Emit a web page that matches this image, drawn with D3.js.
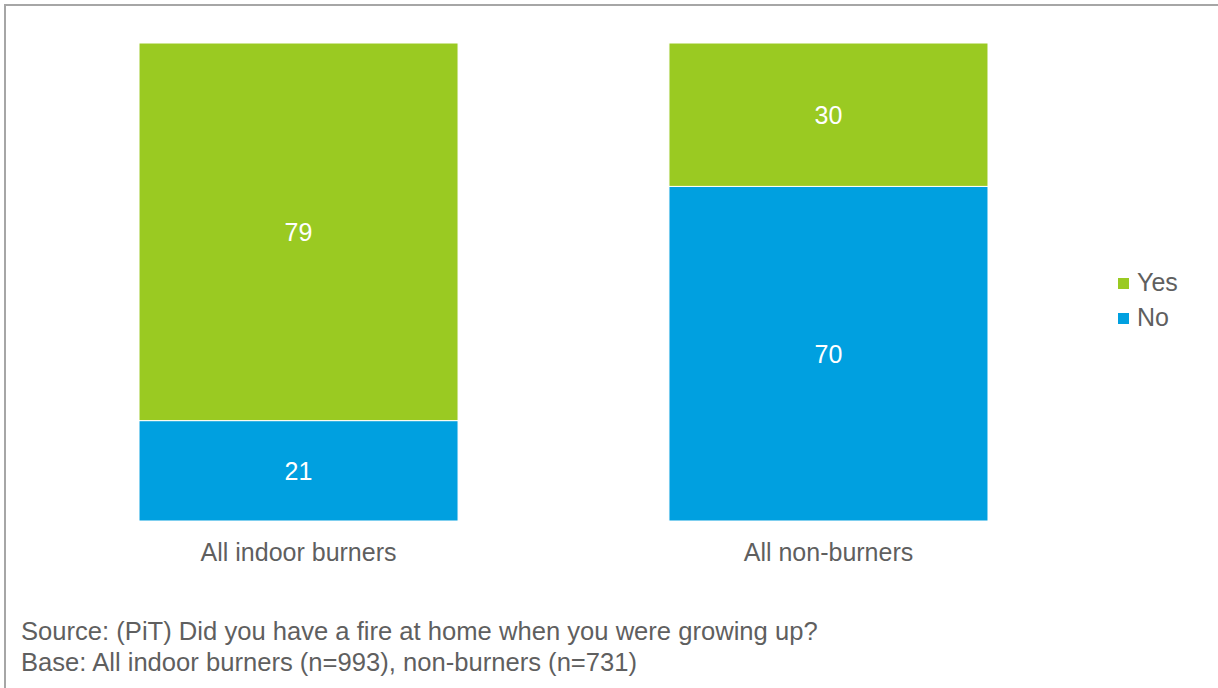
<!DOCTYPE html>
<html>
<head>
<meta charset="utf-8">
<script src="https://cdn.jsdelivr.net/npm/d3@7/dist/d3.min.js"></script>
<style>
  html, body { margin: 0; padding: 0; background: #fff; }
  svg { display: block; font-family: "Liberation Sans", Arial, sans-serif; }
</style>
</head>
<body>
<svg id="chart" width="1218" height="688"></svg>
<script>
// Did you have a fire at home when you were growing up? (%)
const categories = ["All indoor burners", "All non-burners"];
const seriesNames = ["No", "Yes"];
const noValues = [21, 70];
const yesValues = [79, 30];
const legendItems = ["Yes", "No"];
const sourceLines = [
  "Source: (PiT) Did you have a fire at home when you were growing up?",
  "Base: All indoor burners (n=993), non-burners (n=731)"
];

const colors = { Yes: "#9aca22", No: "#00a0e0" };
const textGray = "#5f5f5f";
const fontSize = 25;

const svg = d3.select("#chart");

// outer frame
svg.append("rect")
  .attr("x", 5).attr("y", 5)
  .attr("width", 1218).attr("height", 700)
  .attr("fill", "none")
  .attr("stroke", "#a6a6a6")
  .attr("stroke-width", 2);

const plot = { left: 6, right: 1121, top: 43, bottom: 521 };

const rows = categories.map((c, i) => ({ category: c, No: noValues[i], Yes: yesValues[i] }));
const stacked = d3.stack().keys(seriesNames)(rows);

const x = d3.scaleBand()
  .domain(categories)
  .range([plot.left, plot.right])
  .paddingInner(0.398)
  .paddingOuter(0.251);

const y = d3.scaleLinear().domain([0, 100]).range([plot.bottom, plot.top]);

const layers = svg.append("g").selectAll("g")
  .data(stacked)
  .join("g")
  .attr("fill", d => colors[d.key]);

layers.selectAll("rect")
  .data(d => d.map(p => ({ key: d.key, p })))
  .join("rect")
  .attr("x", d => x(d.p.data.category))
  .attr("width", x.bandwidth())
  .attr("y", d => y(d.p[1]))
  .attr("height", d => y(d.p[0]) - y(d.p[1]))
  .attr("stroke", "#fff")
  .attr("stroke-width", 1);

layers.selectAll("text")
  .data(d => d.map(p => ({ key: d.key, p })))
  .join("text")
  .attr("x", d => x(d.p.data.category) + x.bandwidth() / 2)
  .attr("y", d => (y(d.p[0]) + y(d.p[1])) / 2)
  .attr("dy", "0.36em")
  .attr("text-anchor", "middle")
  .attr("fill", "#fff")
  .attr("font-size", fontSize)
  .text(d => d.p[1] - d.p[0]);

// category axis labels
const xAxis = d3.axisBottom(x).tickSize(0).tickPadding(0);
const axisG = svg.append("g")
  .attr("transform", `translate(0,${plot.bottom})`)
  .call(xAxis);
axisG.select(".domain").remove();
axisG.selectAll("text")
  .attr("y", 40)
  .attr("dy", 0)
  .attr("fill", textGray)
  .attr("font-size", fontSize)
  .attr("font-family", "Liberation Sans, Arial, sans-serif");

// legend
const legend = svg.append("g").attr("transform", "translate(1118,278)");
const li = legend.selectAll("g")
  .data(legendItems)
  .join("g")
  .attr("transform", (d, i) => `translate(0,${i * 35})`);
li.append("rect")
  .attr("width", 11).attr("height", 11)
  .attr("fill", d => colors[d]);
li.append("text")
  .attr("x", 19).attr("y", 13)
  .attr("fill", textGray)
  .attr("font-size", fontSize)
  .text(d => d);

// source notes
svg.append("g").selectAll("text")
  .data(sourceLines)
  .join("text")
  .attr("x", 21)
  .attr("y", (d, i) => 640 + i * 31)
  .attr("fill", textGray)
  .attr("font-size", 25.6)
  .text(d => d);
</script>
</body>
</html>
